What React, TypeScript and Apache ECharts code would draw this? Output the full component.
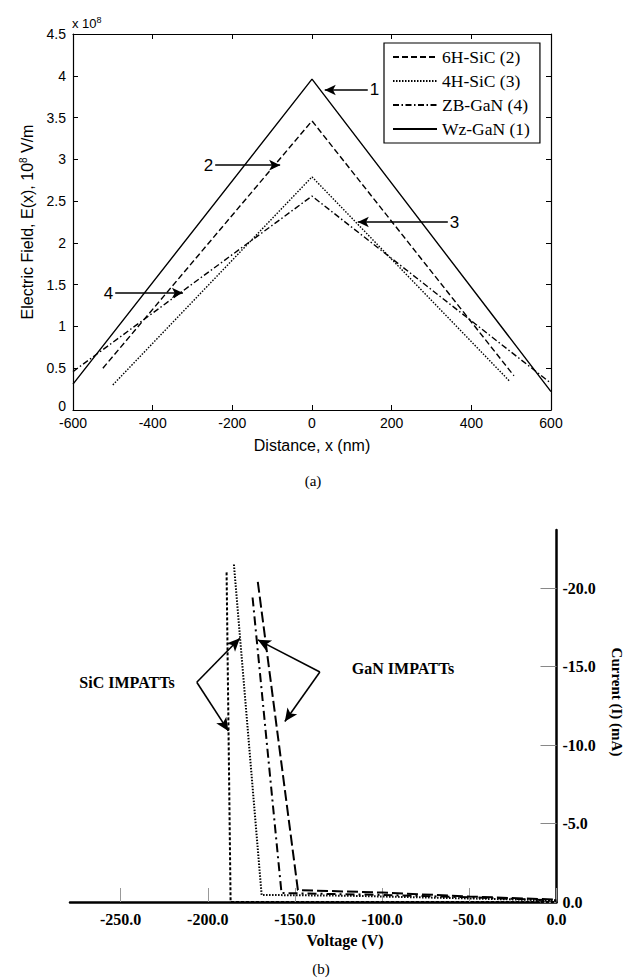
import React, { useEffect, useRef } from 'react';
import * as echarts from 'echarts';

// ---------- Panel (a): electric field profiles ----------
const fieldNames = ['6H-SiC (2)', '4H-SiC (3)', 'ZB-GaN (4)', 'Wz-GaN (1)'];
const sic6H = [[-525, 0.5], [0, 3.46], [507, 0.41]];
const sic4H = [[-500, 0.3], [0, 2.79], [497, 0.34]];
const zbGaN = [[-600, 0.46], [0, 2.56], [600, 0.32]];
const wzGaN = [[-600, 0.31], [0, 3.96], [600, 0.22]];
const distanceRange = [-600, 600];
const distanceStep = 200;
const fieldRange = [0, 4.5];
const fieldStep = 0.5;
// arrow annotations (label, start, end) in data units
const fieldArrows = [
  { label: '1', from: [140, 3.83], to: [32, 3.83] },
  { label: '2', from: [-243, 2.93], to: [-80, 2.93] },
  { label: '3', from: [341, 2.25], to: [115, 2.25] },
  { label: '4', from: [-494, 1.4], to: [-324, 1.4] },
];

// ---------- Panel (b): I-V characteristics ----------
const voltageTicks = [-250, -200, -150, -100, -50, 0];
const currentTicks = [-20, -15, -10, -5, 0];
const voltageRange = [-279, 0];
const currentRange = [-23.7, 0];
const sicDense = [[-189.2, -21.0], [-186.9, 0], [0, 0]];
const sicDotted = [[-185.0, -21.5], [-169.1, -0.45], [-120, -0.4], [-60, -0.25], [0, -0.1]];
const ganDashDot = [[-174.3, -19.4], [-157.7, -0.57], [-100, -0.45], [-50, -0.3], [0, -0.1]];
const ganDashed = [[-171.3, -20.4], [-148.3, -0.76], [-100, -0.6], [-50, -0.35], [0, -0.15]];
const sicArrows = [
  { from: [-206.3, -14.0], to: [-181.6, -16.8] },
  { from: [-206.3, -14.0], to: [-188.2, -10.9] },
];
const ganArrows = [
  { from: [-135.7, -14.65], to: [-171.3, -16.7] },
  { from: [-135.7, -14.65], to: [-155.8, -11.5] },
];

const SANS = '"Liberation Sans", Arial, sans-serif';
const SERIF = '"Liberation Serif", "Times New Roman", serif';

export default function App() {
  const ref = useRef<HTMLDivElement>(null);
  useEffect(() => {
    const chart = echarts.init(ref.current!, null, { renderer: 'svg' });
    const blackLine = { color: '#000', width: 1.2 };
    const lineSeriesA = (name: string, data: number[][], type: any) => ({
      name,
      type: 'line',
      xAxisIndex: 0,
      yAxisIndex: 0,
      data,
      symbol: 'none',
      silent: true,
      lineStyle: { color: '#000', width: 1.4, type },
      itemStyle: { color: '#000' },
    });
    const lineSeriesB = (name: string, data: number[][], type: any) => ({
      name,
      type: 'line',
      xAxisIndex: 2,
      yAxisIndex: 2,
      data,
      symbol: 'none',
      silent: true,
      lineStyle: { color: '#000', width: 2, type },
      itemStyle: { color: '#000' },
    });
    const arrowMark = (arrows: any[], withLabel: boolean, size: number[]) => ({
      silent: true,
      symbol: ['none', 'arrow'],
      symbolSize: size,
      lineStyle: { color: '#000', type: 'solid', width: 1.6 },
      label: {
        show: withLabel,
        position: 'start',
        distance: 2,
        formatter: '{b}',
        color: '#000',
        fontFamily: SANS,
        fontSize: 17,
      },
      data: arrows.map((a) => [
        { name: a.label || '', coord: a.from },
        { coord: a.to },
      ]),
    });

    const option: any = {
      animation: false,
      backgroundColor: '#fff',
      grid: [
        { left: 73, top: 34, width: 478, height: 376 },
        { left: 70, top: 530, width: 486.5, height: 372 },
      ],
      legend: {
        data: fieldNames,
        orient: 'vertical',
        left: 384,
        top: 43,
        itemWidth: 44,
        itemHeight: 14,
        itemGap: 6,
        itemTextGap: 4,
        selectedMode: false,
        padding: [5, 10, 5, 8],
        borderColor: '#000',
        borderWidth: 1.2,
        backgroundColor: '#fff',
        itemStyle: { color: 'transparent', borderColor: 'transparent', borderWidth: 0 },
        textStyle: { color: '#000', fontFamily: SERIF, fontSize: 17.5, lineHeight: 18 },
      },
      xAxis: [
        {
          gridIndex: 0,
          type: 'value',
          min: distanceRange[0],
          max: distanceRange[1],
          interval: distanceStep,
          position: 'bottom',
          axisLine: { show: true, onZero: false, lineStyle: blackLine },
          axisTick: { inside: true, length: 5, lineStyle: { color: '#000' } },
          axisLabel: { color: '#000', fontFamily: SANS, fontSize: 14, margin: 6 },
          splitLine: { show: false },
          name: 'Distance, x (nm)',
          nameLocation: 'middle',
          nameGap: 27,
          nameTextStyle: { color: '#000', fontFamily: SANS, fontSize: 16 },
        },
        {
          gridIndex: 0,
          type: 'value',
          min: distanceRange[0],
          max: distanceRange[1],
          interval: distanceStep,
          position: 'top',
          axisLine: { show: true, onZero: false, lineStyle: blackLine },
          axisTick: { inside: true, length: 5, lineStyle: { color: '#000' } },
          axisLabel: { show: false },
          splitLine: { show: false },
        },
        {
          gridIndex: 1,
          type: 'value',
          min: voltageRange[0],
          max: voltageRange[1],
          position: 'bottom',
          axisLine: { show: true, onZero: false, lineStyle: { color: '#000', width: 2.5 } },
          axisTick: { inside: true, length: 14, customValues: voltageTicks, lineStyle: { color: '#999', width: 1 } },
          axisLabel: {
            customValues: voltageTicks,
            formatter: (v: number) => v.toFixed(1),
            color: '#000',
            fontFamily: SERIF,
            fontWeight: 'bold',
            fontSize: 16,
            margin: 9,
          },
          splitLine: { show: false },
        },
      ],
      yAxis: [
        {
          gridIndex: 0,
          type: 'value',
          min: fieldRange[0],
          max: fieldRange[1],
          interval: fieldStep,
          position: 'left',
          axisLine: { show: true, onZero: false, lineStyle: blackLine },
          axisTick: { inside: true, length: 5, lineStyle: { color: '#000' } },
          axisLabel: {
            color: '#000',
            fontFamily: SANS,
            fontSize: 14,
            margin: 7,
            formatter: (v: number) => (v === 0 ? '{z|0}' : String(v)),
            rich: { z: { fontFamily: SANS, fontSize: 14, color: '#000', padding: [0, 0, 9, 0] } },
          },
          splitLine: { show: false },
          name: 'Electric Field, E(x), 10{sup|8} V/m',
          nameLocation: 'middle',
          nameRotate: 90,
          nameGap: 35,
          nameTextStyle: {
            color: '#000',
            fontFamily: SANS,
            fontSize: 16,
            rich: { sup: { fontFamily: SANS, fontSize: 10, color: '#000', padding: [0, 0, 8, 0] } },
          },
        },
        {
          gridIndex: 0,
          type: 'value',
          min: fieldRange[0],
          max: fieldRange[1],
          interval: fieldStep,
          position: 'right',
          axisLine: { show: true, onZero: false, lineStyle: blackLine },
          axisTick: { inside: true, length: 5, lineStyle: { color: '#000' } },
          axisLabel: { show: false },
          splitLine: { show: false },
        },
        {
          gridIndex: 1,
          type: 'value',
          min: currentRange[0],
          max: currentRange[1],
          inverse: true,
          position: 'right',
          axisLine: { show: true, onZero: false, lineStyle: { color: '#000', width: 2.5 } },
          axisTick: { inside: true, length: 16, customValues: currentTicks, lineStyle: { color: '#888', width: 1 } },
          axisLabel: {
            customValues: currentTicks,
            formatter: (v: number) => v.toFixed(1),
            color: '#000',
            fontFamily: SERIF,
            fontWeight: 'bold',
            fontSize: 16,
            margin: 6,
          },
          splitLine: { show: false },
        },
      ],
      series: [
        lineSeriesA(fieldNames[0], sic6H, [6, 3]),
        lineSeriesA(fieldNames[1], sic4H, [1.5, 1.5]),
        lineSeriesA(fieldNames[2], zbGaN, [6, 2.5, 1.5, 2.5]),
        { ...lineSeriesA(fieldNames[3], wzGaN, 'solid'), markLine: arrowMark(fieldArrows, true, [8, 11]) },
        { ...lineSeriesB('SiC IMPATT (a)', sicDense, [3, 2]), markLine: arrowMark(sicArrows, false, [9, 13]) },
        lineSeriesB('SiC IMPATT (b)', sicDotted, [1.5, 1.5]),
        lineSeriesB('GaN IMPATT (a)', ganDashDot, [9, 4, 2, 4]),
        { ...lineSeriesB('GaN IMPATT (b)', ganDashed, [11, 4]), markLine: arrowMark(ganArrows, false, [9, 13]) },
      ],
      graphic: [
        {
          type: 'text',
          x: 72,
          y: 23,
          style: {
            text: 'x 10{s|8}',
            fill: '#000',
            fontFamily: SANS,
            fontSize: 13,
            align: 'left',
            verticalAlign: 'middle',
            rich: { s: { fontFamily: SANS, fontSize: 9, fill: '#000', padding: [0, 0, 7, 0] } },
          },
        },
        {
          type: 'text',
          x: 313,
          y: 481,
          style: { text: '(a)', fill: '#000', fontFamily: SERIF, fontSize: 15, align: 'center', verticalAlign: 'middle' },
        },
        {
          type: 'text',
          x: 127,
          y: 682,
          style: { text: 'SiC IMPATTs', fill: '#000', fontFamily: SERIF, fontWeight: 'bold', fontSize: 16, align: 'center', verticalAlign: 'middle' },
        },
        {
          type: 'text',
          x: 403,
          y: 668,
          style: { text: 'GaN IMPATTs', fill: '#000', fontFamily: SERIF, fontWeight: 'bold', fontSize: 16, align: 'center', verticalAlign: 'middle' },
        },
        {
          type: 'text',
          x: 617,
          y: 702,
          rotation: -Math.PI / 2,
          style: { text: 'Current (I) (mA)', fill: '#000', fontFamily: SERIF, fontWeight: 'bold', fontSize: 15, align: 'center', verticalAlign: 'middle' },
        },
        {
          type: 'text',
          x: 345,
          y: 940,
          style: { text: 'Voltage (V)', fill: '#000', fontFamily: SERIF, fontWeight: 'bold', fontSize: 16, align: 'center', verticalAlign: 'middle' },
        },
        {
          type: 'text',
          x: 321,
          y: 969,
          style: { text: '(b)', fill: '#000', fontFamily: SERIF, fontSize: 15, align: 'center', verticalAlign: 'middle' },
        },
      ],
    };
    chart.setOption(option);
    return () => chart.dispose();
  }, []);
  return (
    <div
      ref={ref}
      style={{ position: 'absolute', left: 0, top: 0, width: 631, height: 979, background: '#fff' }}
    />
  );
}
